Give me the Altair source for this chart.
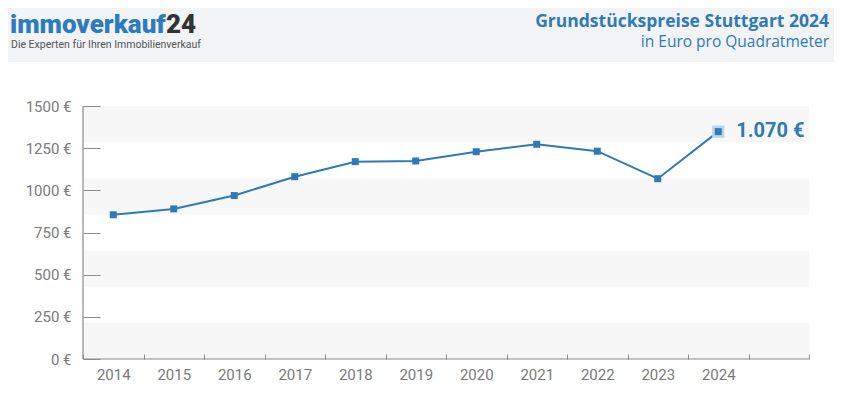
import altair as alt
import pandas as pd

# ---- data ----
years = ["2014", "2015", "2016", "2017", "2018", "2019", "2020", "2021", "2022", "2023", "2024"]
prices = [855, 890, 969, 1081, 1170, 1174, 1229, 1273, 1232, 1069, 1348]
x_domain = years + [""]
y_ticks = [0, 250, 500, 750, 1000, 1250, 1500]
band_lo = [0, 428.6, 857.1, 1285.7]
band_hi = [214.3, 642.9, 1071.4, 1500]
last_label = ["1.070 €"]
logo_main = ["immoverkauf"]
logo_num = ["24"]
tagline = ["Die Experten für Ihren Immobilienverkauf"]
title = ["Grundstückspreise Stuttgart 2024"]
subtitle = ["in Euro pro Quadratmeter"]

W, H = 726, 253
BLUE = "#2e7ab6"
GRAY = "#7a7a7a"
AXC = "#8a8a8a"
FONT = "Roboto"
TFONT = "Open Sans"

df = pd.DataFrame({"year": years, "price": prices})
df_last = pd.DataFrame({"year": years[-1:], "price": prices[-1:], "label": last_label})
bands = pd.DataFrame({"lo": band_lo, "hi": band_hi})
one = pd.DataFrame({"a": [0]})

xs = alt.Scale(type="band", domain=x_domain, paddingInner=0, paddingOuter=0)
ys = alt.Scale(domain=[0, 1500], nice=False)

xaxis = alt.Axis(tickBand="extent", offset=-5, tickSize=5, domain=False, labelPadding=8,
                 labelAngle=0, labelFont=FONT, labelFontSize=15, labelColor=GRAY,
                 tickColor=AXC, title=None, grid=False, zindex=1)
yaxis = alt.Axis(values=y_ticks, labelExpr="datum.value + ' €'", offset=-17, tickSize=17,
                 domain=False, labelPadding=12, labelFont=FONT, labelFontSize=15,
                 labelColor=GRAY, tickColor=AXC, title=None, grid=False, zindex=1)

X = alt.X("year:N", scale=xs, axis=xaxis)

header = alt.Chart(one).mark_rect(color="#f2f3f5").encode(
    x=alt.value(-75), x2=alt.value(751), y=alt.value(-98), y2=alt.value(-44))

band_layer = alt.Chart(bands).mark_rect(color="#f7f7f7").encode(
    y=alt.Y("lo:Q", scale=ys, axis=yaxis), y2="hi:Q", x=alt.value(0), x2=alt.value(W))

yline = alt.Chart(one).mark_rule(color=AXC, strokeWidth=1.2).encode(
    x=alt.value(0), y=alt.value(0), y2=alt.value(H))
xline = alt.Chart(one).mark_rule(color=AXC, strokeWidth=1.2).encode(
    x=alt.value(0), x2=alt.value(W), y=alt.value(H))

line = alt.Chart(df).mark_line(color=BLUE, strokeWidth=2).encode(
    x=X, y=alt.Y("price:Q", scale=ys, axis=yaxis))
halo = alt.Chart(df_last).mark_square(color="#bcd5ec", size=150, opacity=1).encode(
    x=X, y=alt.Y("price:Q", scale=ys, axis=yaxis))
points = alt.Chart(df).mark_square(color=BLUE, size=49, opacity=1).encode(
    x=X, y=alt.Y("price:Q", scale=ys, axis=yaxis))
label = alt.Chart(df_last).mark_text(align="left", baseline="middle", dx=18, dy=-1,
                                     font=FONT, fontSize=20, fontWeight="bold",
                                     color=BLUE).encode(
    x=X, y=alt.Y("price:Q", scale=ys, axis=yaxis), text="label:N")


def htext(vals, x, y, font=FONT, **kw):
    return alt.Chart(pd.DataFrame({"t": vals})).mark_text(baseline="alphabetic", font=font, **kw).encode(
        text="t:N", x=alt.value(x), y=alt.value(y))


t_logo = htext(logo_main, -73, -73, align="left", fontSize=26, fontWeight=900, color="#2c7bbd")
t_num = htext(logo_num, 83, -73, align="left", fontSize=26, fontWeight=900, color="#333333")
t_tag = htext(tagline, -72, -58, align="left", fontSize=10.5, color="#555555")
t_title = htext(title, 746, -79, font=TFONT, align="right", fontSize=17.5, fontWeight="bold", color=BLUE)
t_sub = htext(subtitle, 746, -59, font=TFONT, align="right", fontSize=15.5, color=BLUE)

chart = alt.layer(
    header, band_layer, yline, xline, line, halo, points, label,
    t_logo, t_num, t_tag, t_title, t_sub
).properties(
    width=W, height=H,
    padding={"left": 75, "top": 98, "right": 25, "bottom": 50},
    autosize="none", background="white"
).configure_view(stroke=None)

chart.save("out.html", embed_options={"renderer": "svg", "actions": False})
